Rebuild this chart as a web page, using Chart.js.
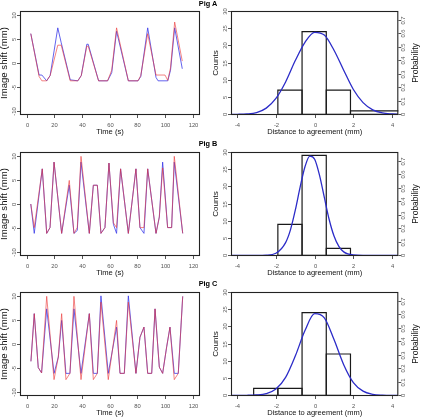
<!DOCTYPE html>
<html><head><meta charset="utf-8">
<script src="https://cdn.jsdelivr.net/npm/chart.js@4.4.1/dist/chart.umd.min.js"></script>
<style>
html,body{margin:0;padding:0;background:#fff;}
#fig{position:relative;width:422px;height:419px;overflow:hidden;background:#fff;font-family:"Liberation Sans",Arial,sans-serif;}
.pan{position:absolute;width:211px;height:140px;}
.pan canvas{display:block;}
.ttl{position:absolute;left:188px;width:40px;text-align:center;font-weight:bold;font-size:7.3px;line-height:8px;color:#000;z-index:5;}
</style>
</head><body>
<div id="fig">
  <div class="pan" style="left:0;top:0"><canvas id="tA" width="211" height="140"></canvas></div>
  <div class="pan" style="left:211px;top:0"><canvas id="hA" width="211" height="140"></canvas></div>
  <div class="pan" style="left:0;top:141px"><canvas id="tB" width="211" height="140"></canvas></div>
  <div class="pan" style="left:211px;top:141px"><canvas id="hB" width="211" height="140"></canvas></div>
  <div class="pan" style="left:0;top:281px"><canvas id="tC" width="211" height="140"></canvas></div>
  <div class="pan" style="left:211px;top:281px"><canvas id="hC" width="211" height="140"></canvas></div>
  <div class="ttl" style="top:0px">Pig A</div>
  <div class="ttl" style="top:140px">Pig B</div>
  <div class="ttl" style="top:280px">Pig C</div>
</div>
<script>
// ---------- tick labels ----------
const timeTicks  = [0, 20, 40, 60, 80, 100, 120];
const shiftTicks = [-10, -5, 0, 5, 10];
const distTicks  = [-4, -2, 0, 2, 4];
const countTicks = [0, 5, 10, 15, 20, 25, 30];
const probTicks  = [0, 0.1, 0.2, 0.3, 0.4, 0.5, 0.6, 0.7];

// ---------- Pig A time series ----------
const timeA = [3, 9, 11, 14.5, 17, 22.5, 25, 31.5, 37, 39.5, 43.5, 44.5, 52, 58.5, 61.5, 65, 73.5, 80.5, 82.5, 87.5, 93.5, 95, 100, 102, 104, 107, 112.5];
const redA  = [6.1, -2.8, -3.7, -3.7, -2.6, 3.7, 3.7, -3.7, -3.7, -2.6, 3.5, 3.5, -3.7, -3.7, -1.5, 7.3, -3.7, -3.7, -2.6, 6.1, -2.5, -2.5, -2.5, -3.6, -1.0, 8.5, 0.4];
const blueA = [6.1, -2.5, -2.5, -3.7, -2.6, 7.3, 4.2, -3.5, -3.7, -2.6, 3.9, 3.9, -3.7, -3.7, -2.0, 6.6, -3.7, -3.7, -2.8, 7.3, -3.0, -3.7, -3.7, -3.7, -1.5, 7.3, -1.2];

// ---------- Pig B time series ----------
const timeB = [3, 5.5, 11.3, 14.5, 16.9, 19.8, 25.3, 30.8, 34.2, 36.6, 39.3, 45.3, 48.2, 51.1, 53.7, 56.6, 59.5, 62.7, 65, 67.9, 73.5, 79, 81.9, 84.8, 87.5, 93.5, 95.9, 98.3, 101.9, 104.8, 106.7, 112.8];
const redB  = [0, -4.9, 7.3, -6.1, -4.9, 8.7, -6.1, 4.9, -6.1, -4.9, 9.9, -6.1, 3.9, 3.9, -6.1, -4.9, 8.5, -3.9, -4.9, 7.3, -6.1, 7.3, -4.9, -4.9, 7.3, -6.1, -2.7, 7.5, -4.9, -4.9, 9.9, -6.1];
const blueB = [0, -6.1, 7.3, -6.1, -4.9, 8.7, -6.1, 3.9, -6.1, -5.5, 8.7, -6.1, 3.9, 3.9, -6.1, -4.9, 8.5, -4.2, -6.1, 7.3, -6.1, 7.3, -4.9, -6.1, 7.3, -6.1, -2.7, 8.7, -4.9, -4.9, 8.7, -6.1];

// ---------- Pig C time series ----------
const timeC = [3.1, 5.5, 8.4, 10.8, 14.5, 19.8, 22.9, 25.3, 28.4, 31.3, 34.2, 39.3, 45.3, 48.2, 51.1, 53.7, 59, 65, 67.5, 70.6, 73.5, 79, 81.9, 84.8, 87.5, 90.4, 92.8, 95.9, 98.3, 101.2, 103.6, 106.7, 109.6, 112.8];
const redC  = [-3.6, 6.3, -4.9, -6.0, 9.9, -7.4, -2.7, 6.3, -7.4, -6.1, 9.9, -7.4, 6.3, -7.4, -6.1, 8.7, -7.4, 4.9, -6.1, -6.1, 8.7, -6.1, 1.4, 3.5, -6.1, -6.1, 7.3, -4.8, -6.1, -0.6, 3.5, -7.4, -6.1, 9.9];
const blueC = [-3.6, 6.3, -4.9, -6.0, 7.3, -6.1, -2.7, 4.9, -6.1, -6.1, 7.3, -6.1, 6.3, -6.1, -6.1, 10, -6.1, 3.5, -6.1, -6.1, 10, -6.1, 1.4, 3.5, -6.1, -6.1, 7.3, -4.8, -6.1, -0.6, 3.5, -6.1, -6.1, 9.9];

// ---------- histograms ----------
const binEdgesA = [-1.9, -0.65, 0.6, 1.85, 4.4];
const countsA   = [7, 24, 7, 1];
const binEdgesB = [-1.9, -0.65, 0.6, 1.85];
const countsB   = [9, 29, 2];
const binEdgesC = [-3.15, -1.9, -0.65, 0.6, 1.85];
const countsC   = [2, 2, 24, 12];

// ---------- fitted normal curves (in counts) ----------
const curveXA = [-4.3, -4, -3.5, -3, -2.5, -2, -1.5, -1, -0.5, 0, 0.5, 1, 1.5, 2, 2.5, 3, 3.5, 4, 4.3];
const curveA  = [0, 0.01, 0.1, 0.5, 1.8, 4.6, 9.4, 15.6, 20.9, 23.8, 23.0, 18.6, 12.8, 7.2, 3.4, 1.3, 0.4, 0.1, 0];
const curveXB = [-4.3, -3, -2.5, -2, -1.5, -1.25, -1, -0.75, -0.5, -0.25, 0, 0.25, 0.5, 0.75, 1, 1.25, 1.5, 2, 2.5, 4.3];
const curveB  = [0, 0, 0.05, 0.6, 3.7, 7.4, 13.1, 19.8, 25.7, 28.8, 27.9, 23.3, 16.8, 10.4, 5.6, 2.6, 1.0, 0.1, 0, 0];
const curveXC = [-4.3, -4, -3.5, -3, -2.5, -2, -1.5, -1, -0.5, 0, 0.5, 1, 1.5, 2, 2.5, 3, 3.5, 4, 4.3];
const curveC  = [0, 0, 0.01, 0.1, 0.5, 1.8, 5.2, 11.4, 18.8, 23.7, 22.5, 16.2, 8.9, 3.7, 1.2, 0.3, 0.05, 0, 0];

// ---------- R-style axes plugin ----------
const FONT = '"Liberation Sans", Arial, Helvetica, sans-serif';
function fmt(v){ return String(v); }
const rAxes = {
  id: 'rAxes',
  afterDraw(chart, args, o) {
    const c = chart.ctx, a = chart.chartArea;
    c.save();
    c.strokeStyle = '#222'; c.lineWidth = 1.1;
    c.strokeRect(a.left + 0.5, a.top + 0.5, a.right - a.left - 1, a.bottom - a.top - 1);
    c.strokeStyle = '#555'; c.lineWidth = 1;
    c.fillStyle = '#555';
    c.font = o.tickSize + 'px ' + FONT;
    c.textAlign = 'center'; c.textBaseline = 'middle';
    const xs = chart.scales.x, ys = chart.scales.y;
    o.xTicks.forEach(v => {
      const p = Math.round(xs.getPixelForValue(v)) + 0.5;
      c.beginPath(); c.moveTo(p, a.bottom); c.lineTo(p, a.bottom + 3); c.stroke();
      c.fillText(fmt(v), p, a.bottom + 10);
    });
    o.yTicks.forEach(v => {
      const p = Math.round(ys.getPixelForValue(v)) + 0.5;
      c.beginPath(); c.moveTo(a.left - 3, p); c.lineTo(a.left, p); c.stroke();
      c.save(); c.translate(a.left - 6, p); c.rotate(-Math.PI / 2);
      c.fillText(fmt(v), 0, 0); c.restore();
    });
    if (o.y2Ticks) {
      const y2 = chart.scales.y2;
      o.y2Ticks.forEach(v => {
        const p = Math.round(y2.getPixelForValue(v)) + 0.5;
        c.beginPath(); c.moveTo(a.right, p); c.lineTo(a.right + 3, p); c.stroke();
        c.save(); c.translate(a.right + 5.5, p); c.rotate(-Math.PI / 2);
        c.fillText(fmt(v), 0, 0); c.restore();
      });
    }
    c.fillStyle = '#111';
    c.font = o.xTitleSize + 'px ' + FONT;
    c.fillText(o.xTitle, (a.left + a.right) / 2, a.bottom + 17);
    const midY = (a.top + a.bottom) / 2;
    c.save(); c.translate(o.yTitleX, midY); c.rotate(-Math.PI / 2);
    c.font = o.yTitleSize + 'px ' + FONT; c.fillText(o.yTitle, 0, 0); c.restore();
    if (o.y2Title) {
      c.save(); c.translate(o.y2TitleX, midY); c.rotate(-Math.PI / 2);
      c.font = o.y2TitleSize + 'px ' + FONT; c.fillText(o.y2Title, 0, 0); c.restore();
    }
    c.restore();
  }
};
Chart.register(rAxes);

const RED = 'rgba(236,55,55,0.62)';
const BLUE = 'rgba(55,55,232,0.78)';

function pts(xs, ys){ return xs.map((x, i) => ({x: x, y: ys[i]})); }

function timeChart(id, t, red, blue) {
  new Chart(document.getElementById(id), {
    type: 'line',
    data: { datasets: [
      { data: pts(t, red),  borderColor: RED,  borderWidth: 1, pointRadius: 0, tension: 0, fill: false },
      { data: pts(t, blue), borderColor: BLUE, borderWidth: 1, pointRadius: 0, tension: 0, fill: false }
    ]},
    options: {
      responsive: false, animation: false, events: [],
      layout: { padding: { left: 20, right: 11, top: 11, bottom: 25 } },
      plugins: {
        legend: { display: false }, tooltip: { enabled: false },
        rAxes: { xTicks: timeTicks, yTicks: shiftTicks, tickSize: 5.8,
                 xTitle: 'Time (s)', xTitleSize: 7.6,
                 yTitle: 'Image shift (mm)', yTitleSize: 9.6, yTitleX: 4.5 }
      },
      scales: {
        x: { type: 'linear', display: false, min: -4.8, max: 125.3 },
        y: { type: 'linear', display: false, min: -10.8, max: 10.8 }
      }
    }
  });
}

function histChart(id, edges, counts, cx, cy) {
  const ds = [{ data: pts(cx, cy), borderColor: '#2c2cc8', borderWidth: 1.3, pointRadius: 0,
                cubicInterpolationMode: 'monotone', fill: false, yAxisID: 'y' }];
  counts.forEach((n, i) => {
    const x0 = edges[i], x1 = edges[i + 1];
    ds.push({ data: [{x: x0, y: 0}, {x: x0, y: n}, {x: x1, y: n}, {x: x1, y: 0}, {x: x0, y: 0}],
              borderColor: '#1a1a1a', borderWidth: 1.2, pointRadius: 0, tension: 0, fill: false, yAxisID: 'y' });
  });
  new Chart(document.getElementById(id), {
    type: 'line',
    data: { datasets: ds },
    options: {
      responsive: false, animation: false, events: [],
      layout: { padding: { left: 20, right: 23.7, top: 11, bottom: 25 } },
      plugins: {
        legend: { display: false }, tooltip: { enabled: false },
        rAxes: { xTicks: distTicks, yTicks: countTicks, y2Ticks: probTicks, tickSize: 5.8,
                 xTitle: 'Distance to agreement (mm)', xTitleSize: 7.5,
                 yTitle: 'Counts', yTitleSize: 8, yTitleX: 4.5,
                 y2Title: 'Probability', y2TitleSize: 8.5, y2TitleX: 205 }
      },
      scales: {
        x:  { type: 'linear', display: false, min: -4.32, max: 4.32 },
        y:  { type: 'linear', display: false, min: -0.2, max: 30 },
        y2: { type: 'linear', display: false, position: 'right', min: -0.005, max: 0.767 }
      }
    }
  });
}

timeChart('tA', timeA, redA, blueA);
timeChart('tB', timeB, redB, blueB);
timeChart('tC', timeC, redC, blueC);
histChart('hA', binEdgesA, countsA, curveXA, curveA);
histChart('hB', binEdgesB, countsB, curveXB, curveB);
histChart('hC', binEdgesC, countsC, curveXC, curveC);
</script>
</body></html>
